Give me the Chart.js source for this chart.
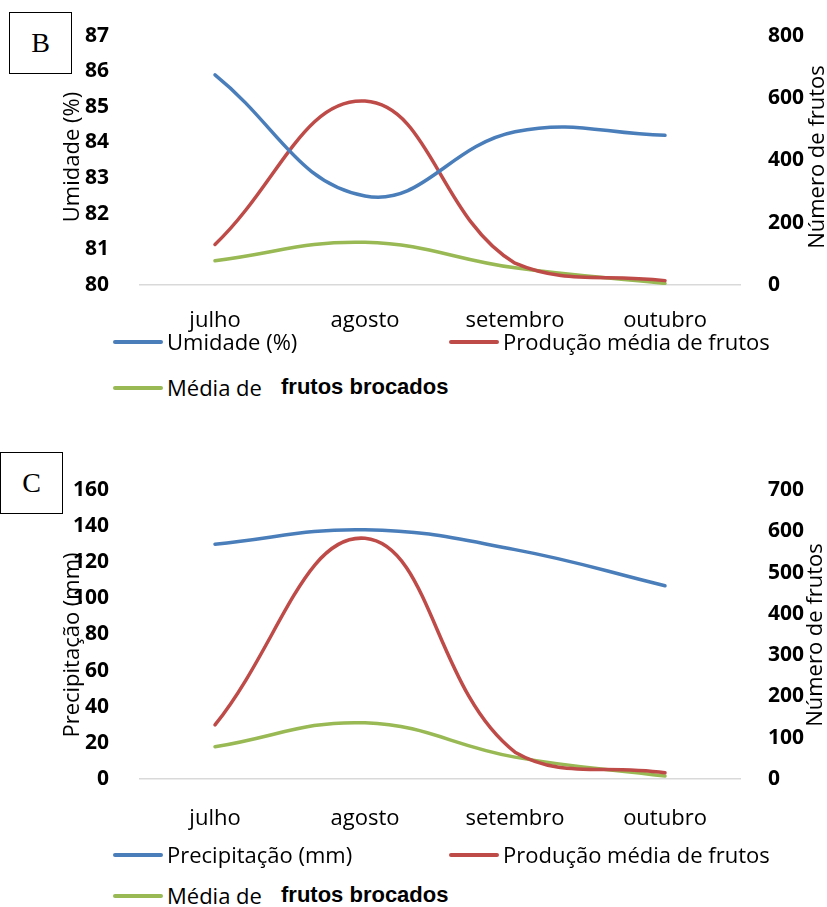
<!DOCTYPE html>
<html>
<head>
<meta charset="utf-8">
<script src="https://cdn.jsdelivr.net/npm/chart.js@4"></script>
<style>
  html, body { margin: 0; padding: 0; background: #fff; }
  body { width: 827px; height: 907px; position: relative; overflow: hidden; font-family: "Open Sans", sans-serif; color: #000; }
  .wrap { position: absolute; left: 0; width: 827px; }
  .box { position: absolute; border: 1.5px solid #000; box-sizing: border-box; font-family: "Liberation Serif", "Times New Roman", serif; font-size: 28px; display: flex; align-items: center; justify-content: center; background: #fff; }
  .rt { position: absolute; font-family: "Open Sans", sans-serif; font-size: 22px; white-space: nowrap; transform: translate(-50%, -50%) rotate(-90deg); line-height: 1; }
  .leg { position: absolute; font-family: "Open Sans", sans-serif; font-size: 22px; white-space: nowrap; line-height: 1; }
  .sw { position: absolute; height: 4px; border-radius: 2px; }
  .bold { font-family: "Liberation Sans", Arial, sans-serif; font-weight: bold; }
</style>
</head>
<body>
<div class="box" style="left:9px;top:12px;width:63px;height:62px;">B</div>
<div class="box" style="left:0px;top:452px;width:63px;height:62px;">C</div>

<div class="wrap" style="top:0px;height:340px;"><canvas id="chartB" width="827" height="340"></canvas></div>
<div class="wrap" style="top:440px;height:400px;"><canvas id="chartC" width="827" height="400"></canvas></div>

<div id="titles"></div>
<div id="legends"></div>

<script>
// ---- Data ----
const months = ["julho", "agosto", "setembro", "outubro"];

const umidade = [85.9, 82.5, 84.3, 84.2];            // Chart B, left axis (%)
const precipitacao = [130, 138, 127, 107];           // Chart C, left axis (mm)

const producaoB = [130, 590, 70, 14];                // Chart B, right axis
const brocadosB = [78, 137, 55, 5];                  // Chart B, right axis
const producaoC = [131, 583, 65, 15];                // Chart C, right axis
const brocadosC = [78, 136, 53, 7];                  // Chart C, right axis

const leftTicksB = { min: 80, max: 87, step: 1 };
const rightTicksB = { min: 0, max: 800, step: 200 };
const leftTicksC = { min: 0, max: 160, step: 20 };
const rightTicksC = { min: 0, max: 700, step: 100 };

const labelUmidade = "Umidade (%)";
const labelPrecip = "Precipitação (mm)";
const labelProducao = "Produção média de frutos";
const labelBrocadosA = "Média de";
const labelBrocadosB = "frutos brocados";
const titleRight = "Número de frutos";

const BLUE = "#4a7ebb", RED = "#be4b48", GREEN = "#98b954";

function makeChart(id, leftLabel, leftData, prod, broc, lt, rt, padTop, xH, xPad) {
  const tickFont = { family: "Open Sans", size: 21, weight: "bold" };
  const ds = (label, data, color, axis) => ({
    label, data, borderColor: color, backgroundColor: color, yAxisID: axis,
    borderWidth: 3.5, pointRadius: 0, tension: 0.42, fill: false,
    borderCapStyle: "round", borderJoinStyle: "round"
  });
  return new Chart(document.getElementById(id), {
    type: "line",
    data: {
      labels: months,
      datasets: [
        ds(leftLabel, leftData, BLUE, "y"),
        ds(labelProducao, prod, RED, "y1"),
        ds(labelBrocadosA + " " + labelBrocadosB, broc, GREEN, "y1")
      ]
    },
    options: {
      responsive: false, animation: false, devicePixelRatio: 1,
      layout: { padding: { left: 55, top: padTop, right: 0, bottom: 5 } },
      plugins: { legend: { display: false }, tooltip: { enabled: false } },
      scales: {
        x: {
          offset: true,
          grid: { display: false },
          border: { display: true, color: "#d9d9d9", width: 1.5 },
          ticks: { font: { family: "Open Sans", size: 22 }, color: "#000", padding: xPad, maxRotation: 0 },
          afterFit: s => { s.height = xH; }
        },
        y: {
          position: "left", min: lt.min, max: lt.max,
          grid: { display: false }, border: { display: false },
          ticks: { stepSize: lt.step, font: tickFont, color: "#000", padding: 23 },
          afterFit: s => { s.width = 85; }
        },
        y1: {
          position: "right", min: rt.min, max: rt.max,
          grid: { display: false }, border: { display: false },
          ticks: { stepSize: rt.step, font: tickFont, color: "#000", padding: 20 },
          afterFit: s => { s.width = 87; }
        }
      }
    }
  });
}

makeChart("chartB", labelUmidade, umidade, producaoB, brocadosB, leftTicksB, rightTicksB, 28, 50, 15);
makeChart("chartC", labelPrecip, precipitacao, producaoC, brocadosC, leftTicksC, rightTicksC, 50, 56, 19);

// ---- Axis titles ----
const titles = document.getElementById("titles");
function addTitle(text, cx, cy) {
  const d = document.createElement("div");
  d.className = "rt"; d.textContent = text;
  d.style.left = cx + "px"; d.style.top = cy + "px";
  titles.appendChild(d);
}
addTitle(labelUmidade, 70, 157);
addTitle(titleRight, 815, 157);
addTitle(labelPrecip, 70, 645);
addTitle(titleRight, 813, 635);

// ---- Legends ----
const legends = document.getElementById("legends");
function addLegend(color, parts, x, cy) {
  const sw = document.createElement("div");
  sw.className = "sw"; sw.style.background = color;
  sw.style.left = x + "px"; sw.style.width = "50px"; sw.style.top = (cy - 2) + "px";
  legends.appendChild(sw);
  parts.forEach(p => {
    const t = document.createElement("div");
    t.className = "leg" + (p.bold ? " bold" : "");
    t.textContent = p.text;
    t.style.left = p.x + "px"; t.style.top = (cy - 12) + "px";
    legends.appendChild(t);
  });
}
addLegend(BLUE, [{ text: labelUmidade, x: 167 }], 113, 342);
addLegend(RED, [{ text: labelProducao, x: 503 }], 449, 342);
addLegend(GREEN, [{ text: labelBrocadosA, x: 167 }, { text: labelBrocadosB, x: 281, bold: true }], 113, 388);

addLegend(BLUE, [{ text: labelPrecip, x: 167 }], 113, 855);
addLegend(RED, [{ text: labelProducao, x: 503 }], 449, 855);
addLegend(GREEN, [{ text: labelBrocadosA, x: 167 }, { text: labelBrocadosB, x: 281, bold: true }], 113, 896);
</script>
</body>
</html>
